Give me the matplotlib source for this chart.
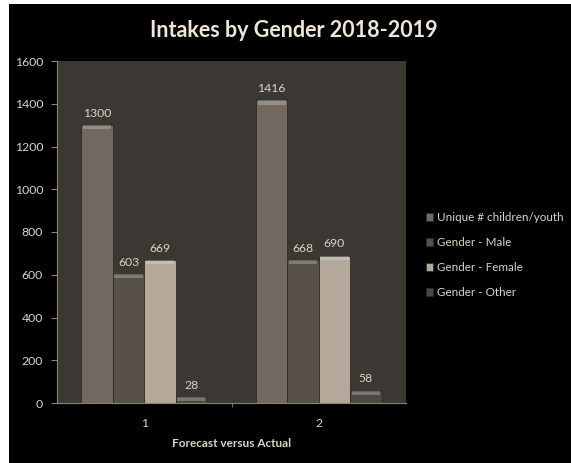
import numpy as np
import matplotlib.pyplot as plt

categories = ['1', '2']
series_names = ['Unique # children/youth', 'Gender - Male', 'Gender - Female', 'Gender - Other']
unique_vals = [1300, 1416]
male_vals = [603, 668]
female_vals = [669, 690]
other_vals = [28, 58]
yticks = [0, 200, 400, 600, 800, 1000, 1200, 1400, 1600]

colors = ['#716960', '#575049', '#b3a899', '#4d4740']
text_col = '#ddd3c3'

fig = plt.figure(figsize=(5.71, 4.63), dpi=100, facecolor='white')
# black chart area with a thin white margin at left and top
bg = fig.add_axes([9 / 571, 0, 1 - 9 / 571, 1 - 4 / 463])
bg.set_facecolor('black')
bg.set_xticks([])
bg.set_yticks([])
for s in bg.spines.values():
    s.set_visible(False)

ax = fig.add_axes([57 / 571, 60 / 463, (406 - 57) / 571, (403 - 61) / 463])
ax.set_facecolor('#3b3732')

x = np.arange(1, len(categories) + 1)
w = 0.18
all_vals = [unique_vals, male_vals, female_vals, other_vals]
handles = []
for i, (vals, name, c) in enumerate(zip(all_vals, series_names, colors)):
    pos = x + (i - 1.5) * w
    b = ax.bar(pos, vals, w, color=c, edgecolor='#2e2b27', linewidth=0.6, label=name, zorder=2)
    handles.append(b)
    # lighter top edge to hint the bevel
    ax.bar(pos, [20 for v in vals], w * 0.9, bottom=[v - 20 for v in vals],
           color='white', alpha=0.25, linewidth=0, zorder=3)
    for p, v in zip(pos, vals):
        ax.text(p, v + 30, str(v), ha='center', va='bottom', color=text_col, fontsize=8.8,
                family='Lato')

ax.set_xlim(0.5, 2.5)
ax.set_ylim(0, 1600)
ax.set_yticks(yticks)
ax.set_yticklabels([str(t) for t in yticks], color=text_col, fontsize=8.8, family='Lato')
ax.set_xticks(x)
ax.set_xticklabels(categories, color=text_col, fontsize=8.8, family='Lato')
ax.tick_params(axis='x', length=0, pad=11)
ax.set_xticks([1.5], minor=True)
ax.tick_params(axis='x', which='minor', length=3, color='#8a8378', direction='out')
ax.tick_params(axis='y', length=4, color='#8a8378', pad=6)
for s in ['top', 'right']:
    ax.spines[s].set_visible(False)
for s in ['left', 'bottom']:
    ax.spines[s].set_color('#8a8378')
    ax.spines[s].set_linewidth(0.8)

ax.set_xlabel('Forecast versus Actual', color=text_col, fontsize=8.5, fontweight='bold',
              family='Lato', labelpad=6)

fig.text(0.515, 0.935, 'Intakes by Gender 2018-2019', ha='center', va='center',
         color='#efe6d6', fontsize=15.5, fontweight='bold', family='Lato')

leg = fig.legend(handles, series_names,
                 loc='center left', bbox_to_anchor=(415 / 571, 1 - 255 / 463), frameon=False,
                 handlelength=0.6, handleheight=0.6, handletextpad=0.4,
                 labelspacing=1.2, prop={'family': 'Lato', 'size': 8.4})
for t in leg.get_texts():
    t.set_color(text_col)

fig.savefig('out.png', dpi=100, facecolor=fig.get_facecolor())
